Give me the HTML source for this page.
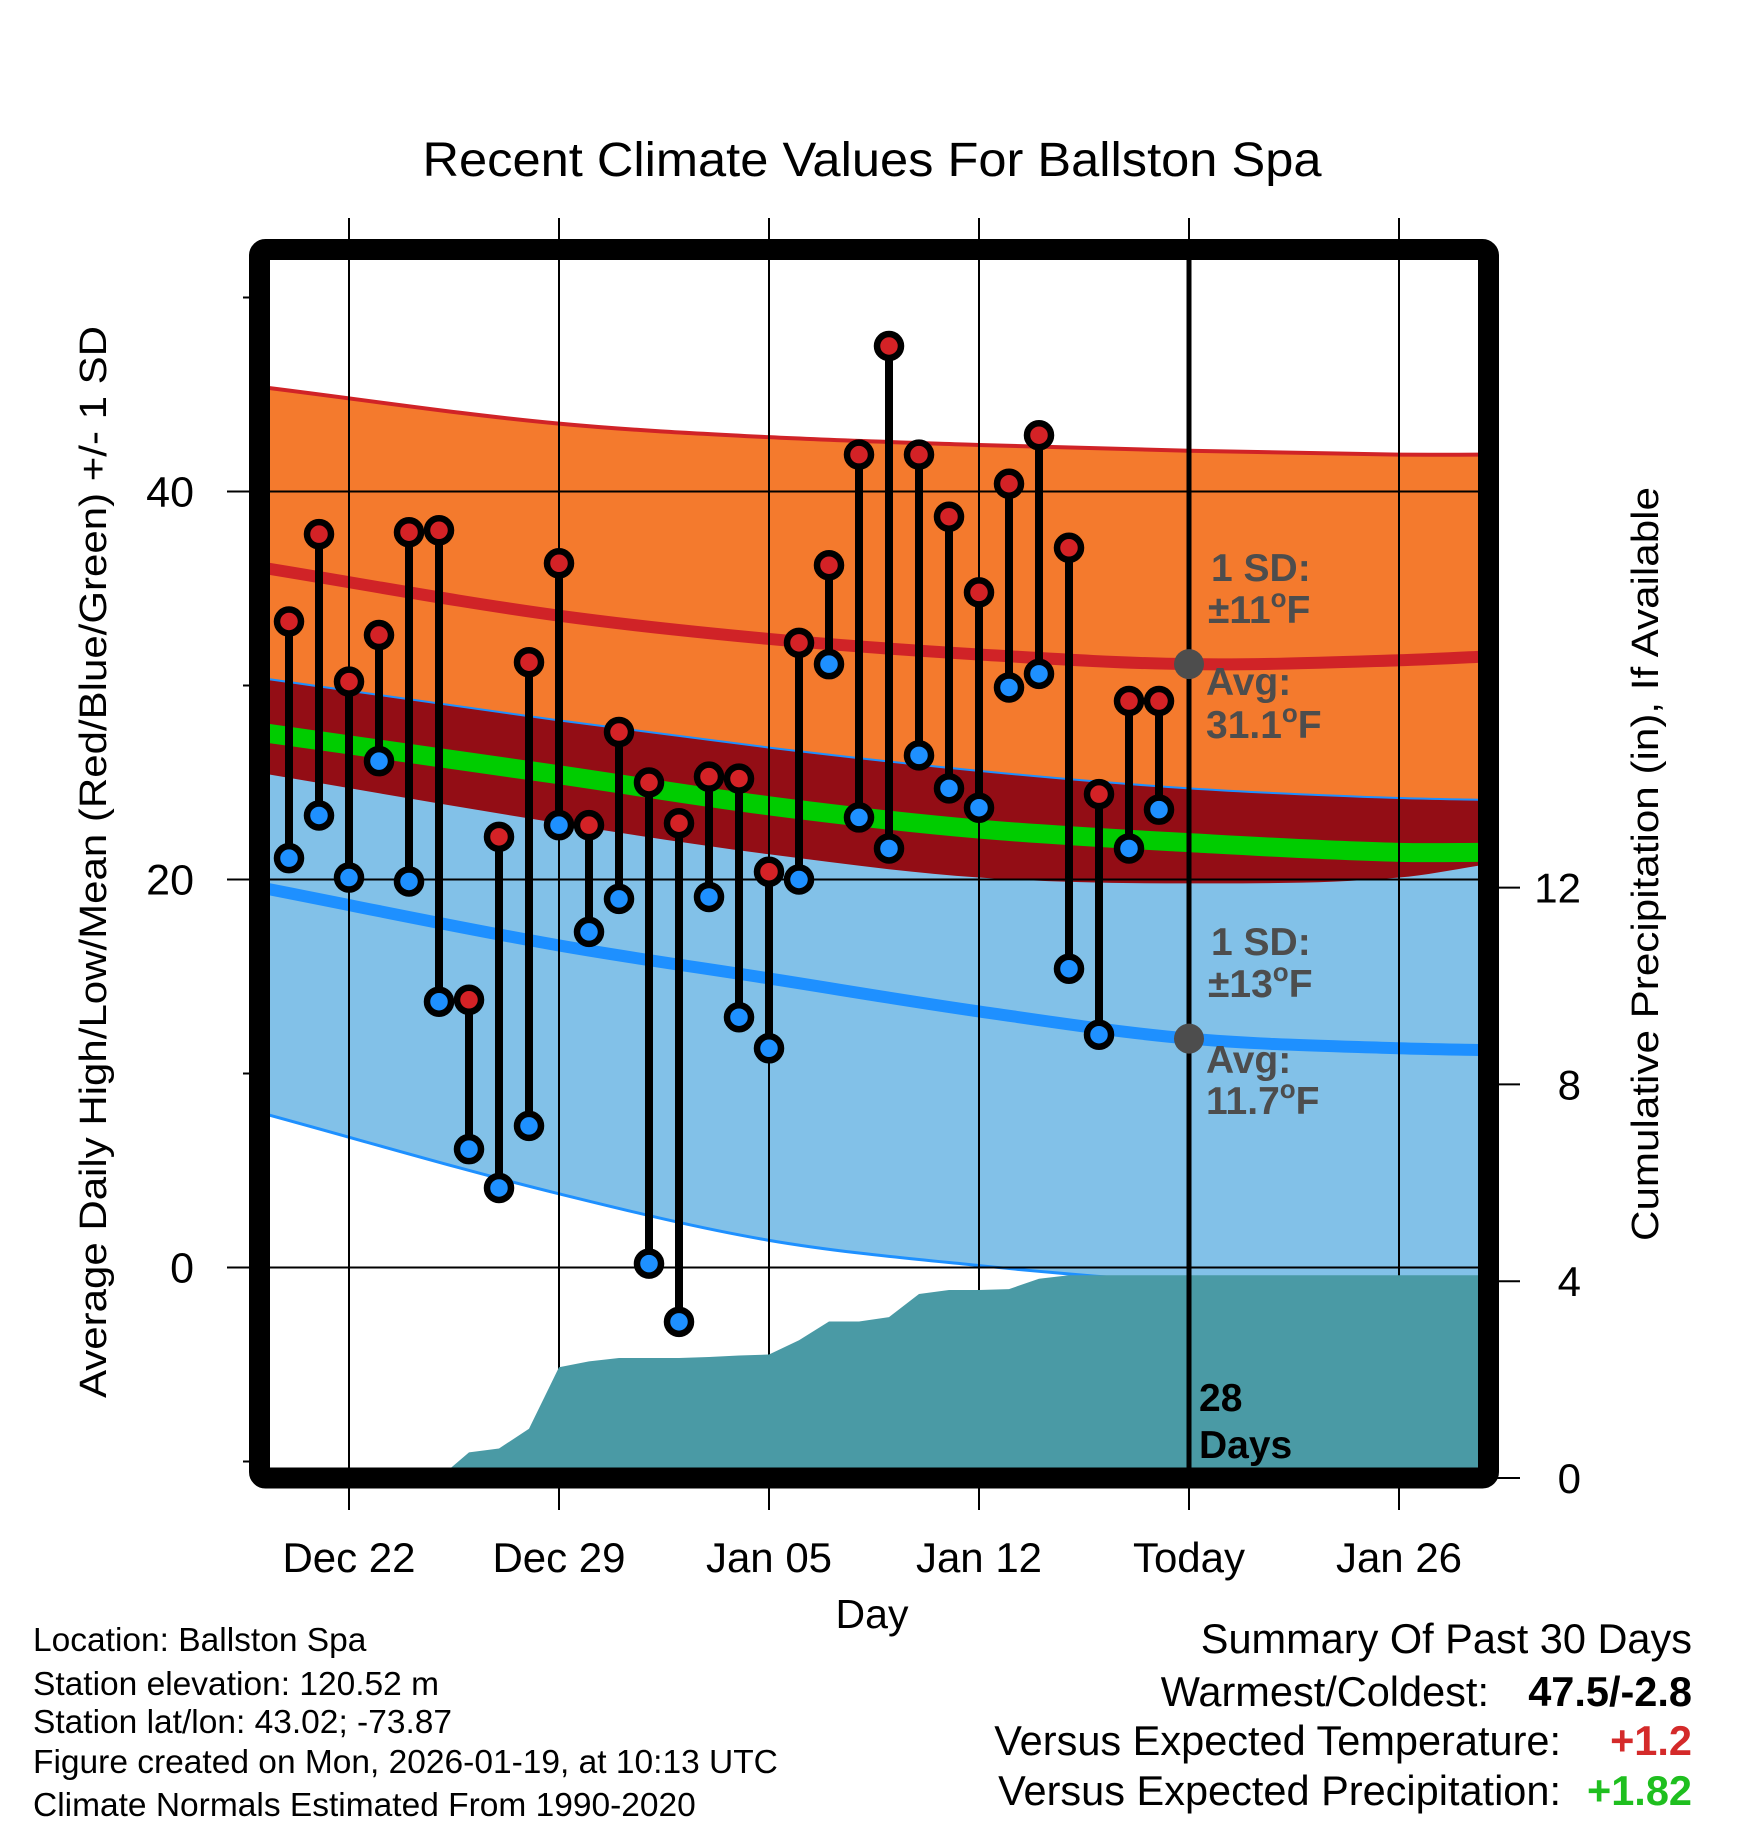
<!DOCTYPE html>
<html><head><meta charset="utf-8"><style>
html,body{margin:0;padding:0;background:#fff;}
svg{display:block;font-family:"Liberation Sans",Arial,sans-serif;}
</style></head><body>
<svg id="chart" width="1748" height="1828" viewBox="0 0 1748 1828" xmlns="http://www.w3.org/2000/svg">
<defs><clipPath id="plotclip"><rect x="270" y="260" width="1208" height="1208"/></clipPath></defs>
<rect x="0" y="0" width="1748" height="1828" fill="#fff"/>
<text x="872" y="176" font-size="48" text-anchor="middle" textLength="899" lengthAdjust="spacingAndGlyphs">Recent Climate Values For Ballston Spa</text>
<g id="plot" clip-path="url(#plotclip)"></g>
<g id="axes"></g>
<g id="marks"></g>
<g id="overlay"></g>
<text transform="translate(106,862) rotate(-90)" font-size="38" text-anchor="middle" textLength="1072" lengthAdjust="spacingAndGlyphs">Average Daily High/Low/Mean (Red/Blue/Green) +/- 1 SD</text>
<text transform="translate(1658,864) rotate(-90)" font-size="38" text-anchor="middle" textLength="754" lengthAdjust="spacingAndGlyphs">Cumulative Precipitation (in), If Available</text>
<text x="872" y="1628" font-size="41" text-anchor="middle">Day</text>
<g font-size="33.5">
<text x="33" y="1651">Location: Ballston Spa</text>
<text x="33" y="1695">Station elevation: 120.52 m</text>
<text x="33" y="1733">Station lat/lon: 43.02; -73.87</text>
<text x="33" y="1773">Figure created on Mon, 2026-01-19, at 10:13 UTC</text>
<text x="33" y="1816">Climate Normals Estimated From 1990-2020</text>
</g>
<g font-size="41.5">
<text x="1692" y="1653" text-anchor="end">Summary Of Past 30 Days</text>
<text x="1489" y="1706" text-anchor="end">Warmest/Coldest:</text>
<text x="1692" y="1706" text-anchor="end" font-weight="bold">47.5/-2.8</text>
<text x="1561" y="1755" text-anchor="end">Versus Expected Temperature:</text>
<text x="1692" y="1755" text-anchor="end" font-weight="bold" fill="#d42a2a">+1.2</text>
<text x="1561" y="1805" text-anchor="end">Versus Expected Precipitation:</text>
<text x="1692" y="1805" text-anchor="end" font-weight="bold" fill="#1fbf1f">+1.82</text>
</g>
</svg>
<script>
// ---- data ----
const dayLabels = ["Dec 20","Dec 21","Dec 22","Dec 23","Dec 24","Dec 25","Dec 26","Dec 27","Dec 28","Dec 29","Dec 30","Dec 31","Jan 01","Jan 02","Jan 03","Jan 04","Jan 05","Jan 06","Jan 07","Jan 08","Jan 09","Jan 10","Jan 11","Jan 12","Jan 13","Jan 14","Jan 15","Jan 16","Jan 17","Jan 18"];
const highs = [33.3,37.8,30.2,32.6,37.9,38.0,13.8,22.2,31.2,36.3,22.8,27.6,25.0,22.9,25.3,25.2,20.4,32.2,36.2,41.9,47.5,41.9,38.7,34.8,40.4,42.9,37.1,24.4,29.2,29.2];
const lows = [21.1,23.3,20.1,26.1,19.9,13.7,6.1,4.1,7.3,22.8,17.3,19.0,0.2,-2.8,19.1,12.9,11.3,20.0,31.1,23.2,21.6,26.4,24.7,23.7,29.9,30.6,15.4,12.0,21.6,23.6];
const precipCum = [0,0,0,0,0,0,0.52,0.6,1.0,2.25,2.37,2.44,2.44,2.44,2.46,2.49,2.51,2.8,3.18,3.18,3.27,3.74,3.82,3.82,3.84,4.05,4.12,4.12,4.12,4.12];
const normDays = [-1,9,16,23,30,37,40];
const highPlusSD = [45.4,43.5,42.8,42.4,42.1,41.9,41.9];
const highNormal = [36.1,33.6,32.4,31.6,31.1,31.3,31.5];
const lowPlusSD = [30.4,28.2,26.8,25.6,24.7,24.2,24.1];
const meanNormal = [27.6,25.4,23.8,22.6,21.9,21.4,21.4];
const highMinusSD = [25.5,22.9,21.3,20.1,19.8,20.1,20.8];
const lowNormal = [19.6,16.6,14.9,13.2,11.8,11.3,11.2];
const lowMinusSD = [8.0,3.8,1.4,0.1,-0.8,-1.3,-1.4];
const xTickLabels = ["Dec 22","Dec 29","Jan 05","Jan 12","Today","Jan 26"];
const xTickDays = [2,9,16,23,30,37];
const yTicks = [0,20,40];
const yMinorTicks = [-10,10,30,50];
const y2Ticks = [0,4,8,12];
const todayDay = 30;

// ---- scales ----
const xD = d => 289 + 30*d;
const yT = t => 1267.5 - t*19.4;
const yP = p => 1478 - p*49.2;
const NS = "http://www.w3.org/2000/svg";
function mk(tag, attrs, parent){const e=document.createElementNS(NS,tag);for(const k in attrs)e.setAttribute(k,attrs[k]);parent.appendChild(e);return e;}
function pts(vals){return normDays.map((d,i)=>[xD(d),yT(vals[i])]);}
// monotone-ish cubic using finite-difference slopes scaled by x spacing
function smooth(p){
 const n=p.length, m=[];
 for(let i=0;i<n;i++){
  if(i===0) m.push((p[1][1]-p[0][1])/(p[1][0]-p[0][0]));
  else if(i===n-1) m.push((p[n-1][1]-p[n-2][1])/(p[n-1][0]-p[n-2][0]));
  else { const a=(p[i][1]-p[i-1][1])/(p[i][0]-p[i-1][0]), b=(p[i+1][1]-p[i][1])/(p[i+1][0]-p[i][0]); m.push((a+b)/2); }
 }
 let s="M"+p[0][0]+","+p[0][1];
 for(let i=0;i<n-1;i++){const h=(p[i+1][0]-p[i][0])/3;
  s+=` C${p[i][0]+h},${p[i][1]+m[i]*h} ${p[i+1][0]-h},${p[i+1][1]-m[i+1]*h} ${p[i+1][0]},${p[i+1][1]}`;}
 return s;}
function band(top,bot){const a=smooth(pts(top));const b=pts(bot).reverse();return a+" L"+smooth(b).slice(1)+" Z";}

const plot=document.getElementById("plot");
let e;
e=mk("path",{d:band(highPlusSD,highMinusSD),fill:"#f47a2d"},plot);


e=mk("path",{d:band(lowPlusSD,lowMinusSD),fill:"#82c1e8"},plot);


e=mk("path",{d:band(lowPlusSD,highMinusSD),fill:"#930d15"},plot);


const lines=[[highPlusSD,"#d02327",4,'high-plus-sd-line'],[lowPlusSD,"#1e90ff",2,'low-plus-sd-line'],[lowMinusSD,"#1e90ff",3,'low-minus-sd-line'],[highNormal,"#d02327",12,'normal-high-line'],[meanNormal,"#00cc00",19,'normal-mean-line'],[lowNormal,"#1e90ff",12,'normal-low-line']];
lines.forEach(l=>{e=mk("path",{d:smooth(pts(l[0])),fill:"none",stroke:l[1],"stroke-width":l[2]},plot);

});
// grid
xTickDays.forEach(d=>{e=mk("line",{x1:xD(d),x2:xD(d),y1:218,y2:1510,stroke:"#000","stroke-width":2},plot);

});
yTicks.forEach(t=>{e=mk("line",{x1:227,x2:1478,y1:yT(t),y2:yT(t),stroke:"#000","stroke-width":2},plot);

});
// precip
let pd="M"+xD(0)+","+yP(0);
precipCum.forEach((p,i)=>{pd+=" L"+xD(i)+","+yP(p);});
pd+=" L1480,"+yP(precipCum[precipCum.length-1])+" L1480,1470 L"+xD(0)+",1470 Z";
e=mk("path",{d:pd,fill:"#4a9aa5"},plot);



// axes (outside clip)
const axes=document.getElementById("axes");
xTickDays.forEach((d,i)=>{
 e=mk("line",{x1:xD(d),x2:xD(d),y1:218,y2:260,stroke:"#000","stroke-width":2},axes);
 
 
 e=mk("line",{x1:xD(d),x2:xD(d),y1:1468,y2:1510,stroke:"#000","stroke-width":2},axes);
 
 
 e=mk("text",{x:xD(d),y:1572,"font-size":42,"text-anchor":"middle"},axes);e.textContent=xTickLabels[i];
 
 
});
yTicks.forEach(t=>{
 e=mk("line",{x1:227,x2:270,y1:yT(t),y2:yT(t),stroke:"#000","stroke-width":2},axes);
 
 
 e=mk("text",{x:194,y:yT(t)+15,"font-size":43,"text-anchor":"end"},axes);e.textContent=t;
 
 
});
yMinorTicks.forEach(t=>{e=mk("line",{x1:243,x2:260,y1:yT(t),y2:yT(t),stroke:"#000","stroke-width":2},axes);
 
 });
y2Ticks.forEach(p=>{
 e=mk("line",{x1:1488,x2:1520,y1:yP(p),y2:yP(p),stroke:"#000","stroke-width":2},axes);
 
 
 e=mk("text",{x:1581,y:yP(p)+15,"font-size":42,"text-anchor":"end"},axes);e.textContent=p;
 
 
});

// marks
const marks=document.getElementById("marks");
highs.forEach((h,i)=>{
 e=mk("line",{x1:xD(i),x2:xD(i),y1:yT(h),y2:yT(lows[i]),stroke:"#000","stroke-width":8},marks);
 
 
});
highs.forEach((h,i)=>{
 e=mk("circle",{cx:xD(i),cy:yT(h),r:12,fill:"#d42226",stroke:"#000","stroke-width":6.5},marks);
 
 
 e=mk("circle",{cx:xD(i),cy:yT(lows[i]),r:12,fill:"#1e90ff",stroke:"#000","stroke-width":6.5},marks);
 
 
});

// overlay: today line, frame, annotations
const ov=document.getElementById("overlay");
e=mk("line",{x1:xD(todayDay),x2:xD(todayDay),y1:260,y2:1468,stroke:"#000","stroke-width":5},ov);


e=mk("rect",{x:259.5,y:249.5,width:1229,height:1228.5,fill:"none",stroke:"#000","stroke-width":21,rx:6},ov);


const hiToday=highNormal[4], loToday=lowNormal[4];
e=mk("circle",{cx:xD(todayDay),cy:yT(hiToday),r:15,fill:"#4d4d4d"},ov);


e=mk("circle",{cx:xD(todayDay),cy:yT(loToday),r:15,fill:"#4d4d4d"},ov);


function ann(x,y,main,deg,name,color){
 const t=mk("text",{x:x,y:y,"font-size":39,"font-weight":"bold",fill:color||"#4d4d4d"},ov);
 
 
 if(deg){t.appendChild(document.createTextNode(main));
  const s=mk("tspan",{dy:-16,"font-size":26},t);s.textContent="o";
  const f=mk("tspan",{dy:16},t);f.textContent="F";}
 else t.textContent=main;
}
ann(1211,581,"1 SD:",false,'high-sd-label');
ann(1208,623,"\u00b111",true,'high-sd-value');
ann(1206,695,"Avg:",false,'high-avg-label');
ann(1206,738,"31.1",true,'high-avg-value');
ann(1211,955,"1 SD:",false,'low-sd-label');
ann(1208,997,"\u00b113",true,'low-sd-value');
ann(1206,1073,"Avg:",false,'low-avg-label');
ann(1206,1114,"11.7",true,'low-avg-value');
ann(1199,1411,"28",false,'days-count-label',"#000");
ann(1199,1458,"Days",false,'days-unit-label',"#000");
</script>
</body></html>
